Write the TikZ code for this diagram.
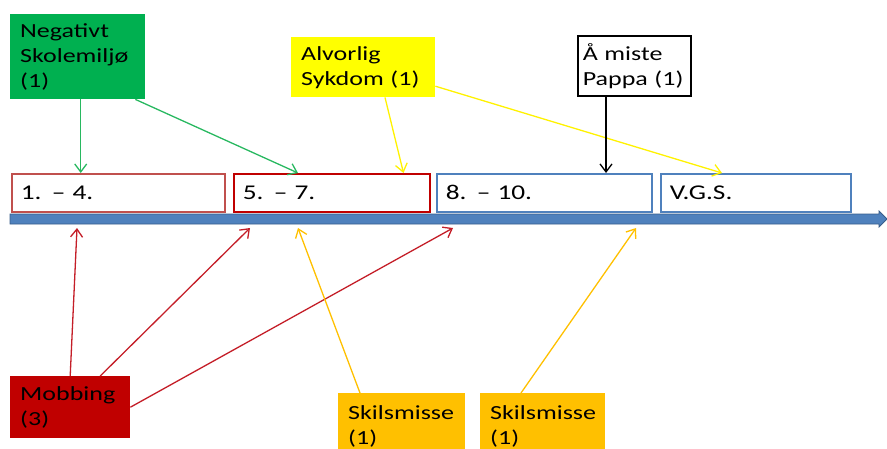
\documentclass[tikz,border=0pt]{standalone}
\usepackage{fontspec}
\setmainfont{Carlito}[FakeStretch=1.3]
\usetikzlibrary{arrows.meta}

\definecolor{grnbox}{RGB}{0,176,80}
\definecolor{grnline}{RGB}{40,184,96}
\definecolor{ylwbox}{RGB}{255,255,0}
\definecolor{orgbox}{RGB}{255,192,0}
\definecolor{redbox}{RGB}{192,0,0}
\definecolor{redline}{RGB}{196,30,40}
\definecolor{paleRed}{RGB}{192,80,77}
\definecolor{axisBlue}{RGB}{79,129,189}
\definecolor{axisDark}{RGB}{56,93,138}

\begin{document}
\begin{tikzpicture}[x=1pt, y=-1pt,
    cause/.style={anchor=north west, align=left, inner xsep=10pt, inner ysep=0pt,
        font=\fontsize{20}{25}\selectfont, text=black},
    period/.style={draw, line width=1.5pt, fill=white, anchor=north west, align=left,
        inner xsep=9pt, minimum height=38, font=\fontsize{21}{26}\selectfont, text=black},
    link/.style={-{Straight Barb[length=8pt, width=12pt]}, line width=1.3pt}]

    \clip (0,0) rectangle (887,448);

    % --- Timeline ---
    % Thick blue bar with a small head at the right end
    \draw[axisDark, fill=axisBlue, line width=0.8pt]
        (10,214) -- (879,214) -- (879,211) -- (887,219) -- (879,227) -- (879,224) -- (10,224) -- cycle;

    % Points where the arrows from below hit the bar
    \coordinate (hit1) at (77,228);
    \coordinate (hit2) at (250,228);
    \coordinate (hit3) at (453,228);
    \coordinate (hit4) at (298,228);
    \coordinate (hit5) at (636,228);

    % --- Periods ---
    \node[period, draw=paleRed, text width=195] (t14) at (11,173) {1. -- 4.};
    \node[period, draw=redbox, text width=178] (t57) at (233,173) {5. -- 7.};
    \node[period, draw=axisBlue, text width=197] (t810) at (436,173) {8. -- 10.};
    \node[period, draw=axisBlue, text width=172] (vgs) at (660,173) {V.G.S.};

    % --- Causes above ---
    \node[cause, fill=grnbox, minimum height=85, text width=115] (neg) at (10,14) {Negativt\\Skolemiljø\\(1)};
    \node[cause, fill=ylwbox, minimum height=60, text width=124] (syk) at (291,37) {Alvorlig\\Sykdom (1)};
    \node[cause, draw=black, line width=1.5pt, fill=white, minimum height=60, inner xsep=5pt,
        text width=103] (pap) at (577,35) {Å miste\\Pappa (1)};

    % --- Causes below ---
    \node[cause, fill=redbox, minimum height=62, text width=100] (mob) at (10,376) {Mobbing\\(3)};
    \node[cause, fill=orgbox, minimum height=66, text width=107] (sk1) at (338,393) {Skilsmisse\\(1)};
    \node[cause, fill=orgbox, minimum height=66, text width=105] (sk2) at (480,393) {Skilsmisse\\(1)};

    % --- Arrows from above ---
    \draw[link, grnline] ([xshift=3]neg.south) -- ([xshift=3]neg.south |- t14.north);
    \draw[link, grnline] ([xshift=-10]neg.south east) -- ([xshift=65]t57.north west);
    \draw[link, yellow] ([xshift=94]syk.south west) -- ([xshift=-27]t57.north east);
    \draw[link, yellow] ([yshift=-19]syk.east) -- ([xshift=62]vgs.north west);
    \draw[link, black] ([xshift=29]pap.south west) -- ([xshift=29]pap.south west |- t810.north);

    % --- Arrows from below ---
    \draw[link, redline] (mob.north) -- (hit1);
    \draw[link, redline] ([xshift=30]mob.north) -- (hit2);
    \draw[link, redline] (mob.east) -- (hit3);
    \draw[link, orgbox] ([xshift=22]sk1.north west) -- (hit4);
    \draw[link, orgbox] ([xshift=41]sk2.north west) -- (hit5);

\end{tikzpicture}
\end{document}
